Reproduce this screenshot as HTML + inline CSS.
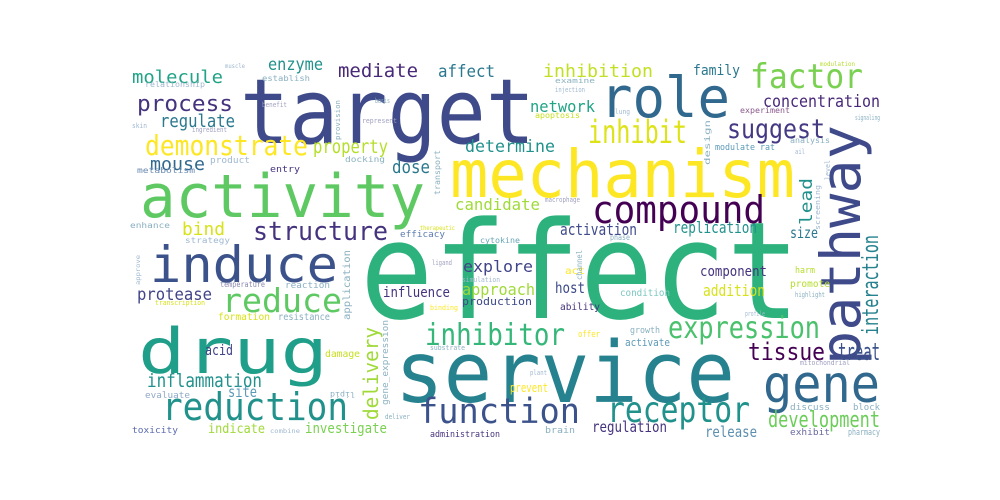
<!DOCTYPE html>
<html><head><meta charset="utf-8"><style>
html,body{margin:0;padding:0;background:#fff;}
svg{display:block;}
text{font-family:"DejaVu Sans Mono","Liberation Mono",monospace;}
</style></head><body>
<svg id="cloud" width="1000" height="500" viewBox="0 0 1000 500" xmlns="http://www.w3.org/2000/svg">
<rect width="1000" height="500" fill="#fff"/>
</svg>
<script>
const words = [
"effect","target","mechanism","service","drug","activity","induce","role","pathway","gene",
"compound","function","receptor","reduction","factor","inhibitor","expression","reduce","inhibit","suggest",
"demonstrate","structure","process","interaction","tissue","treat","development","molecule","enzyme","mediate",
"affect","regulate","property","mouse","dose","determine","candidate","bind","inhibition","family",
"network","concentration","lead","activation","replication","size","protease","acid","delivery","inflammation",
"site","indicate","investigate","influence","explore","approach","production","host","component","addition",
"condition","promote","activate","prevent","regulation","release","ability","efficacy","cytokine","toxicity",
"evaluate","administration","formation","resistance","relationship","establish","product","entry","metabolism","apoptosis",
"experiment","analysis","modulate rat","discuss","block","exhibit","pharmacy","brain","temperature","reaction",
"transcription","damage","gene_expression","application","design","transport","strategy","enhance","muscle","docking",
"examine","injection","modulation","ligand","binding","substrate","offer","growth","harm","highlight",
"act","channel","macrophage","phase","simulation","combine","deliver","lipid","profile","plant",
"mitochondrial","approve","skin","benefit","represent","ingredient","basis","lung","ail","signaling",
"provision","screening","level","therapeutic"];
const xs = [
360,240,450,395,138,140,150,600,860,763,
592,418,607,162,750,425,668,222,588,727,
145,253,137,878,748,838,768,132,268,338,
438,160,313,150,392,465,455,182,543,693,
530,763,812,560,673,790,137,205,378,147,
228,208,305,383,463,462,462,555,700,703,
620,790,625,510,592,705,560,400,480,132,
145,430,218,278,145,262,210,270,137,535,
740,790,715,790,853,790,848,545,220,285,
155,325,388,350,710,440,185,130,225,345,
555,555,820,432,430,430,578,630,795,795,
565,582,545,610,462,270,385,355,745,530,
800,140,132,262,362,192,375,615,795,855,
340,820,830,420];
const ys = [
318,143,197,402,373,217,282,117,365,402,
223,423,422,420,88,345,338,312,143,138,
155,240,111,335,360,360,427,83,70,77,
77,127,153,170,173,152,210,235,77,75,
112,107,225,235,233,238,300,355,420,387,
397,433,433,297,272,295,305,293,276,296,
296,287,346,392,432,437,310,237,243,433,
398,437,320,320,87,81,163,172,173,118,
113,143,150,410,410,435,435,433,287,288,
305,357,405,320,165,195,243,228,68,162,
83,92,66,265,310,350,337,333,273,297,
274,280,202,240,282,433,419,392,316,375,
365,285,128,107,123,132,103,114,154,120,
140,230,180,230];
const sizes = [
135,90,66,85,62,60,50,56,55,52,
38,35,36,38,34,30,30,33,32,27,
28,26,22,22,24,24,22,18,17,19,
17,18,19,18,18,17,16,18,18,14,
16,17,17,16,16,15,17,14,20,19,
15,13,14,14,16,16,11,15,14,16,
10,10,11,12,15,15,10,9,8,9,
9,9,10,10,8,8,9,9,8,8,
8,8,9,9,9,9,9,9,8,9,
7,10,9,10,8,8,8,8,6,8,
7,7,6,7,7,7,9,9,9,7,
10,8,7,8,7,6,7,8,7,7,
7,6,7,7,7,7,7,7,7,7,
7,7,7,6];
const widths = [
440,295,345,340,190,285,188,130,240,117,
173,162,143,186,113,140,152,120,99,98,
163,135,96,100,77,42,112,91,55,80,
57,75,75,55,38,90,85,43,110,47,
65,117,47,77,84,28,75,28,93,115,
29,57,82,67,70,73,70,30,67,62,
50,40,45,38,75,52,40,45,40,46,
45,70,52,52,60,48,40,30,58,45,
50,40,60,40,27,40,32,30,45,45,
50,35,85,70,45,45,45,40,20,40,
40,30,35,20,28,35,22,30,20,30,
20,30,35,20,38,30,25,25,20,17,
50,30,15,25,35,35,15,15,10,25,
40,45,20,35];
const colors = [
"#2db27d","#3e4a89","#fde725","#26828e","#1f9e89","#5ec962","#3b528b","#31688e","#3e4a89","#31688e",
"#440154","#3b528b","#21918c","#21918c","#7ad151","#35b779","#4ac16d","#5ec962","#dde318","#443983",
"#fde725","#46337e","#46337e","#26828e","#440154","#3b528b","#6ccd5a","#20a386","#21918c","#482878",
"#2a788e","#2a788e","#b5de2b","#31688e","#2a788e","#21918c","#a0da39","#d8e219","#c2df23","#2a788e",
"#20a386","#482878","#21918c","#3e4a89","#21918c","#2a788e","#414487","#414487","#a0da39","#21918c",
"#5c9ab8","#a0da39","#7ad151","#46337e","#414487","#a0da39","#3e4a89","#3e4a89","#46337e","#d8e219",
"#7cc7c0","#b5de2b","#5c9ab8","#fde725","#46337e","#5c8fb0","#46337e","#5c7bb0","#6aa6b8","#5c6bb0",
"#8fa8c8","#46337e","#d8e219","#8ab0c0","#a0b8d0","#8ab0c0","#a0b8d0","#46337e","#6a8ab0","#c8e020",
"#8a5a8a","#8ab0c0","#5c9ab8","#8ab0c0","#8ab0c0","#6a6aa0","#8ab0c0","#8ab0c0","#8a8ab0","#8ab0c0",
"#d8e219","#c8e020","#8ab0c0","#8ab0c0","#8ab0c0","#8ab0c0","#a0b8d0","#8ab0c0","#a0b8d0","#8ab0c0",
"#8ab0c0","#a0b8d0","#b5de2b","#a0a0c0","#fde725","#8ab0c0","#fde725","#8ab0c0","#b5de2b","#8ab0c0",
"#fde725","#8ab0c0","#a0a0c0","#8ab0c0","#a0b8d0","#a0b8d0","#8ab0c0","#8ab0c0","#a0b8d0","#a0b8d0",
"#a0a0c0","#a0b8d0","#a0b8d0","#a0a0c0","#a0a0c0","#a0a0c0","#8ab0c0","#a0b8d0","#a0b8d0","#8ab0c0",
"#8ab0c0","#a0b8d0","#a0b8d0","#d8e219"];
const rotations = {"pathway":-90,"interaction":-90,"lead":-90,"delivery":-90,"gene_expression":-90,"application":-90,"design":-90,"transport":-90,"channel":-90,"approve":-90,"provision":-90,"screening":-90,"level":-90,"lipid":180};

const svg = document.getElementById('cloud');
const NS = 'http://www.w3.org/2000/svg';
words.forEach(function(w, i){
  const t = document.createElementNS(NS, 'text');
  t.setAttribute('x', xs[i]);
  t.setAttribute('y', ys[i]);
  t.setAttribute('font-size', sizes[i]);
  t.setAttribute('fill', colors[i]);
  t.setAttribute('textLength', widths[i]);
  t.setAttribute('lengthAdjust', 'spacingAndGlyphs');
  const r = rotations[w];
  if (r) t.setAttribute('transform', 'rotate(' + r + ' ' + xs[i] + ' ' + ys[i] + ')');
  t.textContent = w;
  
  
  svg.appendChild(t);
});
</script>
</body></html>
